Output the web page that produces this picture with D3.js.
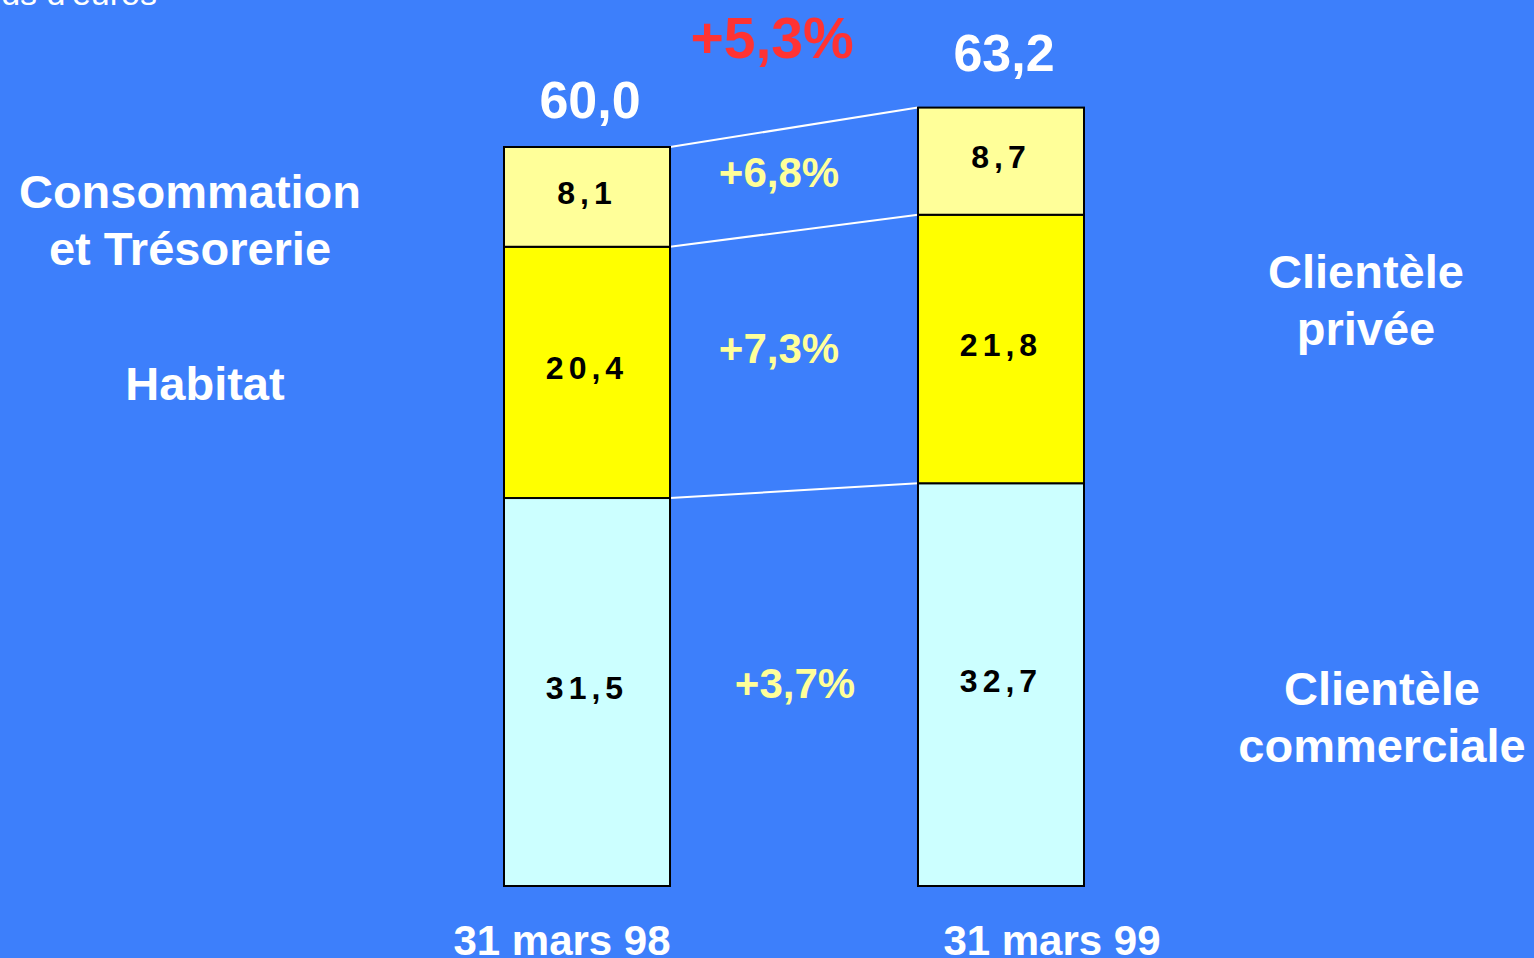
<!DOCTYPE html>
<html>
<head>
<meta charset="utf-8">
<script src="https://cdn.jsdelivr.net/npm/d3@7"></script>
<style>
  html, body { margin: 0; padding: 0; background: #3d7ffb; overflow: hidden; }
  svg { display: block; font-family: "Liberation Sans", Arial, sans-serif; }
</style>
</head>
<body>
<svg id="chart" width="1534" height="958"></svg>
<script>
// data
var dates = ["31 mars 98", "31 mars 99"];
var segments = ["Clientèle commerciale", "Habitat", "Consommation et Trésorerie"];
var values98 = [31.5, 20.4, 8.1];
var values99 = [32.7, 21.8, 8.7];
var totals = [60.0, 63.2];
var growth = ["+3,7%", "+7,3%", "+6,8%"];
var totalGrowth = "+5,3%";
var unitLabel = "Milliards d'euros";

var colors = ["#ccffff", "#ffff00", "#ffff99"];
var fmt = function(v) { return d3.format(".1f")(v).replace(".", ","); };

var svg = d3.select("#chart");

var x = d3.scaleBand().domain(dates).range([504, 1084]).paddingInner(0.599);
var y = d3.scaleLinear().domain([0, 60]).range([886, 147]);

// cumulative segments per bar
var bars = dates.map(function(dt, bi) {
  var vals = bi == 0 ? values98 : values99;
  var acc = 0;
  return vals.map(function(v, i) {
    var s = {date: dt, i: i, v: v, y0: acc, y1: acc + v};
    acc += v;
    return s;
  });
});

// connector lines between the tops of segments
var g = svg.append("g");
segments.forEach(function(s, i) {
  var a = bars[0][i], b = bars[1][i];
  g.append("line")
    .attr("x1", x(dates[0]) + x.bandwidth())
    .attr("y1", y(a.y1))
    .attr("x2", x(dates[1]))
    .attr("y2", y(b.y1))
    .attr("stroke", "#ffffff")
    .attr("stroke-width", 2);
});

bars.forEach(function(bar) {
  var bg = svg.append("g");
  bg.selectAll("rect").data(bar).enter().append("rect")
    .attr("x", function(d) { return x(d.date); })
    .attr("y", function(d) { return y(d.y1); })
    .attr("width", x.bandwidth())
    .attr("height", function(d) { return y(d.y0) - y(d.y1); })
    .attr("fill", function(d) { return colors[d.i]; })
    .attr("stroke", "#000")
    .attr("stroke-width", 2);
  bg.selectAll("text.seg").data(bar).enter().append("text")
    .attr("class", "seg")
    .attr("x", function(d) { return x(d.date) + x.bandwidth() / 2; })
    .attr("y", function(d) { return (y(d.y0) + y(d.y1)) / 2 + 7; })
    .attr("text-anchor", "middle")
    .attr("font-size", 32)
    .attr("font-weight", "bold")
    .attr("letter-spacing", 5)
    .attr("fill", "#000")
    .text(function(d) { return fmt(d.v); });
});

// totals above bars, dates below
var dateDx = [-25, 51];
var totalDy = [-29, -37];
dates.forEach(function(dt, bi) {
  svg.append("text")
    .attr("x", x(dt) + x.bandwidth() / 2 + 3)
    .attr("y", y(totals[bi]) + totalDy[bi])
    .attr("text-anchor", "middle")
    .attr("font-size", 52)
    .attr("font-weight", "bold")
    .attr("fill", "#fff")
    .text(fmt(totals[bi]));
  svg.append("text")
    .attr("x", x(dt) + x.bandwidth() / 2 + dateDx[bi])
    .attr("y", 955)
    .attr("text-anchor", "middle")
    .attr("font-size", 42)
    .attr("font-weight", "bold")
    .attr("fill", "#fff")
    .text(dt);
});

// growth labels between the bars
var growthDx = [16, 0, 0];
var growthDy = [10, 2, 8];
segments.forEach(function(s, i) {
  var a = bars[0][i], b = bars[1][i];
  var cy = (y(a.y0) + y(a.y1) + y(b.y0) + y(b.y1)) / 4;
  svg.append("text")
    .attr("x", (x(dates[0]) + x.bandwidth() + x(dates[1])) / 2 - 15 + growthDx[i])
    .attr("y", cy + growthDy[i])
    .attr("text-anchor", "middle")
    .attr("font-size", 42)
    .attr("font-weight", "bold")
    .attr("fill", "#ffff99")
    .text(growth[i]);
});

svg.append("text")
  .attr("x", 772)
  .attr("y", 58)
  .attr("text-anchor", "middle")
  .attr("font-size", 57)
  .attr("font-weight", "bold")
  .attr("fill", "#ff3333")
  .text(totalGrowth);

// side labels
function multi(lines, cx, by, size) {
  var t = svg.append("text")
    .attr("text-anchor", "middle")
    .attr("font-size", size)
    .attr("font-weight", "bold")
    .attr("fill", "#fff");
  lines.forEach(function(l, k) {
    t.append("tspan").attr("x", cx).attr("y", by + k * 57).text(l);
  });
}
multi(["Consommation", "et Trésorerie"], 190, 208, 47);
multi(["Habitat"], 205, 400, 47);
multi(["Clientèle", "privée"], 1366, 288, 47);
multi(["Clientèle", "commerciale"], 1382, 705, 47);

svg.append("text")
  .attr("x", 157)
  .attr("y", 5)
  .attr("text-anchor", "end")
  .attr("font-size", 34)
  .attr("fill", "#fff")
  .text(unitLabel);
</script>
</body>
</html>
